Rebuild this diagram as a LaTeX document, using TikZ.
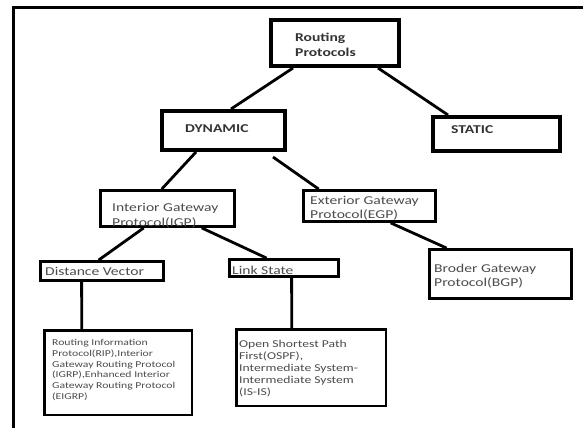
\documentclass[tikz,border=0pt]{standalone}
\usepackage{fontspec}
\setmainfont{Carlito}[FakeStretch=1.3]
\begin{document}
\begin{tikzpicture}[x=1pt,y=-1pt,
  thickbox/.style={draw=black, line width=4pt, inner sep=0pt},
  midbox/.style={draw=black, line width=2.8pt, inner sep=0pt},
  thinbox/.style={draw=black, line width=2.5pt, inner sep=0pt},
  conn/.style={draw=black, line width=2.8pt},
  frameline/.style={draw=black, line width=3pt},
  bigtxt/.style={anchor=west, inner sep=0pt, align=left, text=black!80, font=\fontsize{12}{14.5}\selectfont\bfseries},
  medtxt/.style={anchor=west, inner sep=0pt, align=left, text=black!70, font=\fontsize{12}{14.5}\selectfont},
  smalltxt/.style={anchor=west, inner sep=0pt, align=left, text=black!70, font=\fontsize{9}{10.8}\selectfont},
  ostxt/.style={anchor=west, inner sep=0pt, align=left, text=black!70, font=\fontsize{10.5}{12.2}\selectfont}
]
\useasboundingbox (0,0) rectangle (583,428);
\fill[white] (0,0) rectangle (583,428);
% outer frame
\draw[frameline] (13,428) -- (13,8) -- (583,8);

% boxes
\node[thickbox, minimum width=128pt, minimum height=46pt] (R) at (335,43) {};
\node[thickbox, minimum width=123pt, minimum height=39pt] (DYN) at (223.5,130.5) {};
\node[thickbox, minimum width=127pt, minimum height=34pt] (ST) at (496.5,134) {};
\node[midbox, minimum width=134pt, minimum height=36pt] (IGP) at (167.5,208.5) {};
\node[midbox, minimum width=132pt, minimum height=31pt] (EGP) at (369.5,206) {};
\node[midbox, minimum width=123pt, minimum height=19pt] (DV) at (102,271) {};
\node[midbox, minimum width=109pt, minimum height=17pt] (LS) at (284,268) {};
\node[midbox, minimum width=142pt, minimum height=49pt] (BGP) at (500.5,274) {};
\node[thinbox, minimum width=147.5pt, minimum height=84.5pt] (RIP) at (118,372.5) {};
\node[thinbox, minimum width=149.5pt, minimum height=76.5pt] (OSPF) at (311,367.5) {};

% texts
\node[bigtxt] (Rt) at (295,45) {Routing\\Protocols};
\node[bigtxt] (DYNt) at (185,129) {DYNAMIC};
\node[bigtxt] (STt) at (451,130) {STATIC};
\node[medtxt] (IGPt) at (112,215.5) {Interior Gateway\\Protocol(IGP)};
\node[medtxt] (EGPt) at (310,208) {Exterior Gateway\\Protocol(EGP)};
\node[medtxt] (DVt) at (45,271) {Distance Vector};
\node[medtxt] (LSt) at (232,270) {Link State};
\node[medtxt] (BGPt) at (434,276) {Broder Gateway\\Protocol(BGP)};
\node[smalltxt] (RIPt) at (52,370) {Routing Information\\Protocol(RIP),Interior\\Gateway Routing Protocol\\(IGRP),Enhanced Interior\\Gateway Routing Protocol\\(EIGRP)};
\node[ostxt] (OSPFt) at (239,368.5) {Open Shortest Path\\First(OSPF),\\Intermediate System-\\Intermediate System\\(IS-IS)};

% connectors
\draw[conn] ([xshift=24pt]R.south west) -- ([xshift=71pt]DYN.north west);
\draw[conn] ([xshift=109pt]R.south west) -- ([xshift=17pt]ST.north west);
\draw[conn] ([xshift=36pt]DYN.south west) -- ([xshift=62.6pt]IGP.north west);
\draw[conn] ([xshift=113pt,yshift=-5pt]DYN.south west) -- ([xshift=16.6pt]EGP.north west);
\draw[conn] ([xshift=44.6pt]IGP.south west) -- ([xshift=59.5pt]DV.north west);
\draw[conn] ([xshift=102.6pt]IGP.south west) -- ([xshift=38.5pt]LS.north west);
\draw[conn] ([xshift=88.6pt]EGP.south west) -- ([xshift=18.5pt]BGP.north west);
\draw[conn] ([xshift=42.5pt]DV.south west) -- ([xshift=38.75pt]RIP.north west);
\draw[conn] ([xshift=63.5pt]LS.south west) -- ([xshift=56.75pt]OSPF.north west);
\end{tikzpicture}
\end{document}
